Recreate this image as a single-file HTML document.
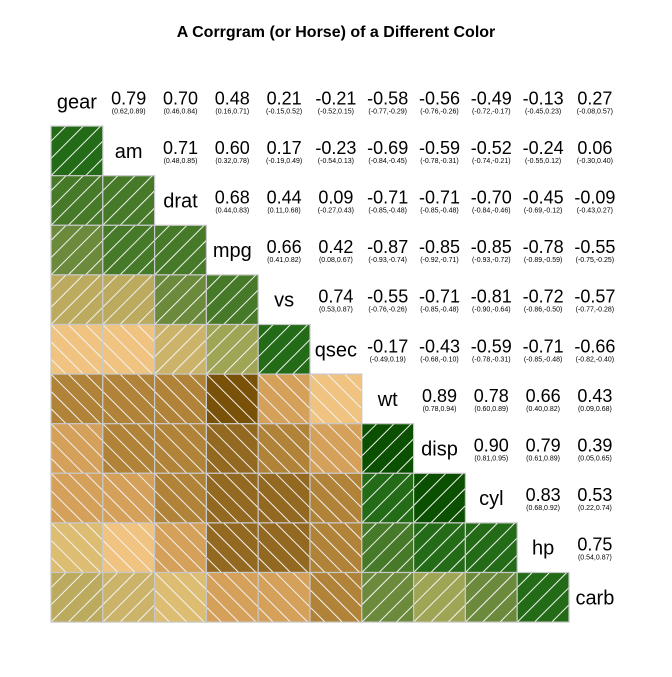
<!DOCTYPE html>
<html><head><meta charset="utf-8">
<style>
html,body{margin:0;padding:0;background:#fff;}
svg text{font-family:"Liberation Sans",Arial,sans-serif;}
</style></head>
<body>
<svg id="chart" width="672" height="672" viewBox="0 0 672 672" xmlns="http://www.w3.org/2000/svg">
<rect width="672" height="672" fill="#fff"/>
<text x="336" y="37" text-anchor="middle" font-size="16" font-weight="bold">A Corrgram (or Horse) of a Different Color</text>
<defs><clipPath id="dummy"><rect x="0" y="0" width="1" height="1"/></clipPath></defs>
<g id="cells"></g>
</svg>
<script>
const vars = ["gear","am","drat","mpg","vs","qsec","wt","disp","cyl","hp","carb"];
// upper triangle correlations, row i, columns i+1..10
const corrRows = [
 [0.79,0.70,0.48,0.21,-0.21,-0.58,-0.56,-0.49,-0.13,0.27],
 [0.71,0.60,0.17,-0.23,-0.69,-0.59,-0.52,-0.24,0.06],
 [0.68,0.44,0.09,-0.71,-0.71,-0.70,-0.45,-0.09],
 [0.66,0.42,-0.87,-0.85,-0.85,-0.78,-0.55],
 [0.74,-0.55,-0.71,-0.81,-0.72,-0.57],
 [-0.17,-0.43,-0.59,-0.71,-0.66],
 [0.89,0.78,0.66,0.43],
 [0.90,0.79,0.39],
 [0.83,0.53],
 [0.75]
];
const ciLow = [
 [0.62,0.46,0.16,-0.15,-0.52,-0.77,-0.76,-0.72,-0.45,-0.08],
 [0.48,0.32,-0.19,-0.54,-0.84,-0.78,-0.74,-0.55,-0.30],
 [0.44,0.11,-0.27,-0.85,-0.85,-0.84,-0.69,-0.43],
 [0.41,0.08,-0.93,-0.92,-0.93,-0.89,-0.75],
 [0.53,-0.76,-0.85,-0.90,-0.86,-0.77],
 [-0.49,-0.68,-0.78,-0.85,-0.82],
 [0.78,0.60,0.40,0.09],
 [0.81,0.61,0.05],
 [0.68,0.22],
 [0.54]
];
const ciHigh = [
 [0.89,0.84,0.71,0.52,0.15,-0.29,-0.26,-0.17,0.23,0.57],
 [0.85,0.78,0.49,0.13,-0.45,-0.31,-0.21,0.12,0.40],
 [0.83,0.68,0.43,-0.48,-0.48,-0.46,-0.12,0.27],
 [0.82,0.67,-0.74,-0.71,-0.72,-0.59,-0.25],
 [0.87,-0.26,-0.48,-0.64,-0.50,-0.28],
 [0.19,-0.10,-0.31,-0.48,-0.40],
 [0.94,0.89,0.82,0.68],
 [0.95,0.89,0.65],
 [0.92,0.74],
 [0.87]
];
const palette = ["#7a5108","#936820","#b08339","#d4a05a","#e6b86e","#f0c480","#ddbd72",
                 "#cbb46a","#bcaa5e","#a0a455","#6b8a3c","#467a28","#236b17","#0b5000"];

const X0=51, CW=51.8, Y0=76.5, CH=49.6;
const NS="http://www.w3.org/2000/svg";
const g=document.getElementById('cells');
function fmt(v){return v.toFixed(2);}
function corr(i,j){ if(i>j){const t=i;i=j;j=t;} return corrRows[i][j-i-1]; }
function colorFor(r){ let b=Math.floor((r+1)/2*14); if(b>13)b=13; if(b<0)b=0; return palette[b]; }
function mk(tag,attrs){const e=document.createElementNS(NS,tag);for(const k in attrs)e.setAttribute(k,attrs[k]);return e;}

const n=vars.length;
for(let i=0;i<n;i++){
  for(let j=0;j<n;j++){
    const x=X0+j*CW, y=Y0+i*CH, cx=x+CW/2, cy=y+CH/2;
    if(i===j){
      const t=mk('text',{x:cx,y:cy+7,'text-anchor':'middle','font-size':'20'});
      t.textContent=vars[i];
      
      
      g.appendChild(t);
    } else if(j>i){
      const r=corr(i,j);
      const t=mk('text',{x:cx,y:cy+3,'text-anchor':'middle','font-size':'18'});
      t.textContent=fmt(r);
      
      
      g.appendChild(t);
      const c=mk('text',{x:cx,y:cy+12,'text-anchor':'middle','font-size':'7'});
      c.textContent='('+fmt(ciLow[i][j-i-1])+','+fmt(ciHigh[i][j-i-1])+')';
      
      
      g.appendChild(c);
    } else {
      const r=corr(i,j);
      const cg=mk('g',{});
      
      
      const id='clip'+i+'_'+j;
      const cp=mk('clipPath',{id:id});
      cp.appendChild(mk('rect',{x:x,y:y,width:CW,height:CH}));
      cg.appendChild(cp);
      cg.appendChild(mk('rect',{x:x,y:y,width:CW,height:CH,fill:colorFor(r)}));
      const lg=mk('g',{'clip-path':'url(#'+id+')',stroke:'#f2f2f2','stroke-width':'1'});
      const sp=CW/3;
      for(let k=-4;k<=4;k++){
        let l;
        if(r>=0) l=mk('line',{x1:x+k*sp,y1:y+CH,x2:x+k*sp+CH,y2:y});
        else l=mk('line',{x1:x+k*sp,y1:y,x2:x+k*sp+CH,y2:y+CH});
        lg.appendChild(l);
      }
      cg.appendChild(lg);
      cg.appendChild(mk('rect',{x:x,y:y,width:CW,height:CH,fill:'none',stroke:'#c8c8c8','stroke-width':'1.2'}));
      g.appendChild(cg);
    }
  }
}
</script>
</body></html>
